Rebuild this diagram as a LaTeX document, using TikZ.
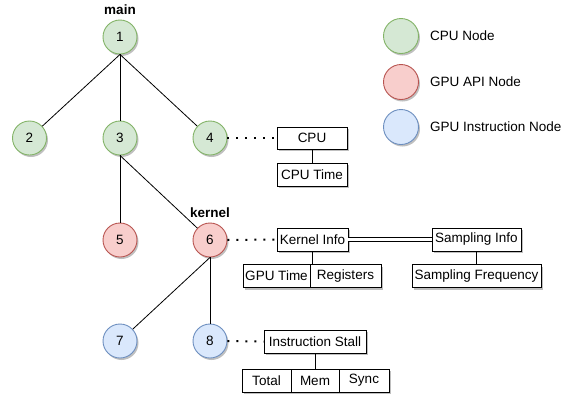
\documentclass[tikz,border=0pt]{standalone}
\usepackage{fontspec}
\setmainfont{Liberation Sans}
\usetikzlibrary{shadows}
\definecolor{cpufill}{HTML}{D5E8D4}
\definecolor{cpuline}{HTML}{82B366}
\definecolor{apifill}{HTML}{F8CECC}
\definecolor{apiline}{HTML}{B85450}
\definecolor{insfill}{HTML}{DAE8FC}
\definecolor{insline}{HTML}{6C8EBF}

\begin{document}
\begin{tikzpicture}[
  x=1pt, y=-1pt,
  every node/.style={font={\fontsize{13.5}{16}\selectfont}},
  castshadow/.style={drop shadow={shadow xshift=1.5pt, shadow yshift=-2pt,
      fill=black, opacity=0.25}},
  tnode/.style={circle, draw, line width=0.9pt, minimum size=34pt,
    inner sep=0pt, castshadow},
  cpu/.style={tnode, fill=cpufill, draw=cpuline},
  api/.style={tnode, fill=apifill, draw=apiline},
  ins/.style={tnode, fill=insfill, draw=insline},
  info/.style={draw, fill=white, line width=0.9pt, minimum height=23pt,
    inner sep=0pt, castshadow},
  tag/.style={font={\fontsize{13.5}{16}\selectfont\bfseries}},
  dots/.style={line width=2pt, dash pattern=on 2pt off 7pt},
  ]
  \useasboundingbox (0,0) rectangle (574,397);
  % Tree
  \node[cpu] (n1) at (120,37) {1};
  \node[cpu] (n2) at (29.5,138) {2};
  \node[cpu] (n3) at (120,138) {3};
  \node[cpu] (n4) at (210,138) {4};
  \node[api] (n5) at (120,240) {5};
  \node[api] (n6) at (210,240) {6};
  \node[ins] (n7) at (120,341) {7};
  \node[ins] (n8) at (210,341) {8};
  \node[tag] (mainlbl) at (120,10) {main};
  \node[tag] (kernlbl) at (210,213) {kernel};
  \foreach \a/\b in {n1/n2, n1/n3, n1/n4, n3/n5, n3/n6, n6/n7, n6/n8} {
    \draw[line width=0.8pt] (\a.south) -- (\b);
  }

  % Metrics
  \node[info, minimum width=70pt, minimum height=22pt] (cpubox) at (312,138) {CPU};
  \node[info, minimum width=70pt] (cputime) at (312,174.5) {CPU Time};
  \node[info, minimum width=71pt] (kinfo) at (312.5,239.5) {Kernel Info};
  \node[info, minimum width=67pt] (gputime) at (276.5,276) {GPU Time};
  \node[info, minimum width=71pt] (regs) at (345.5,276) {Registers};
  \node[info, minimum width=89pt] (sinfo) at (476.5,239.5) {Sampling Info};
  \node[info, minimum width=129pt] (sfreq) at (476.5,276) {Sampling Frequency};
  \node[info, minimum width=102pt] (istall) at (315,341.5) {Instruction Stall};
  \node[info, minimum width=49pt] (total) at (266.5,380.5) {Total};
  \node[info, minimum width=48pt] (mem) at (315,380.5) {Mem};
  \node[info, minimum width=50pt] (sync) at (364,380.5) {Sync};

  \draw[dots] (n4.east) -- (cpubox.west);
  \draw[dots] (n6.east) -- (kinfo.west);
  \draw[dots] (n8.east) -- (istall.west);
  \draw[line width=0.8pt] (cpubox.south) -- (cputime.north);
  \draw[line width=0.8pt] (kinfo.south) -- (kinfo.south |- gputime.north);
  \draw[line width=0.8pt] (sinfo.south) -- (sfreq.north);
  \draw[line width=0.8pt] (istall.south) -- (mem.north);
  \draw[line width=0.8pt, double, double distance=3.5pt] (kinfo.east) -- (sinfo.west);

  % Legend
  \foreach \st/\y/\txt [count=\i] in {cpu/36/CPU Node, api/82/GPU API Node,
      ins/127/GPU Instruction Node} {
    \node[\st, minimum size=35pt] (key\i) at (401,\y) {};
    \node[anchor=west, inner sep=0pt] (keytxt\i) at (430,\y) {\txt};
  }
\end{tikzpicture}
\end{document}
